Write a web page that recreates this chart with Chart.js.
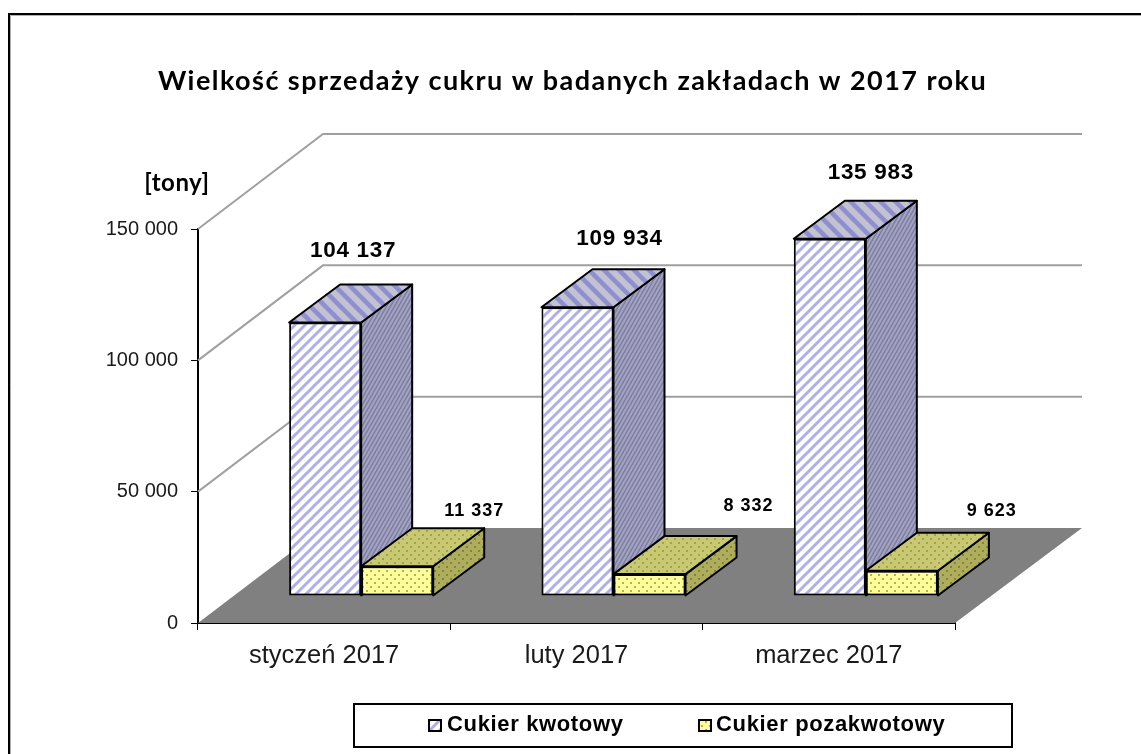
<!DOCTYPE html>
<html lang="pl">
<head>
<meta charset="utf-8">
<title>Wielkość sprzedaży cukru</title>
<script src="https://cdn.jsdelivr.net/npm/chart.js@4"></script>
<style>
  html, body { margin: 0; padding: 0; background: #fff; }
  canvas { display: block; }
</style>
</head>
<body>
<canvas id="chart" width="1141" height="754"></canvas>
<script>
'use strict';
const categories = ['styczeń 2017', 'luty 2017', 'marzec 2017'];
const kwotowy = [104137, 109934, 135983];
const pozakwotowy = [11337, 8332, 9623];
const seriesNames = ['Cukier kwotowy', 'Cukier pozakwotowy'];
const yTickLabels = ['0', '50 000', '100 000', '150 000'];
const kwotowyLabels = ['104 137', '109 934', '135 983'];
const pozakwotowyLabels = ['11 337', '8 332', '9 623'];

// 3D look: wall depth, bar depth and where the bars stand on the floor
const WALL = { dx: 125, dy: -95 };
const DEPTH = { dx: 51, dy: -38 };
const SHIFT = { x: 37, y: -27 };
// hand placed value labels, measured from the front-top centre of each bar
const labelOffsets = [
  [[28, -72], [42, -68], [41, -66]],
  [[77, -55], [99, -68], [90, -60]]
];

function tile(w, h, paint) {
  const c = document.createElement('canvas');
  c.width = w;
  c.height = h;
  paint(c.getContext('2d'));
  return document.createElement('canvas').getContext('2d').createPattern(c, 'repeat');
}

function stripes(w, h, bg, fg, lw, flip) {
  return tile(w, h, g => {
    g.fillStyle = bg;
    g.fillRect(0, 0, w, h);
    g.strokeStyle = fg;
    g.lineWidth = lw;
    // lines run well past the tile so the corners join up when it repeats
    for (const o of [-1, 0, 1]) {
      g.beginPath();
      if (flip) {
        g.moveTo(o * w - w, -h);
        g.lineTo(o * w + 2 * w, 2 * h);
      } else {
        g.moveTo(o * w - w, 2 * h);
        g.lineTo(o * w + 2 * w, -h);
      }
      g.stroke();
    }
  });
}

function dots(bg, fg) {
  return tile(8, 8, g => {
    g.fillStyle = bg;
    g.fillRect(0, 0, 8, 8);
    g.fillStyle = fg;
    g.fillRect(1, 1, 2, 2);
    g.fillRect(5, 5, 2, 2);
  });
}

const faces = [
  {
    front: stripes(10, 10, '#ffffff', '#aeaeec', 3, false),
    top: stripes(15, 15, '#c2c2d2', '#8f8fd0', 4.5, true),
    side: stripes(4, 7, '#a4a4bc', '#7c7ca8', 1.4, false)
  },
  {
    front: dots('#ffff99', '#b2b25a'),
    top: dots('#c9c974', '#a3a34e'),
    side: dots('#adad5c', '#84843c')
  }
];

function drawFaces(ctx, meta, index) {
  ctx.translate(SHIFT.x, SHIFT.y);
  ctx.strokeStyle = '#000';
  ctx.lineWidth = 2;
  ctx.lineJoin = 'round';
  const set = faces[index];
  for (const bar of meta.data) {
    const l = bar.x - bar.width / 2;
    const r = bar.x + bar.width / 2;
    ctx.fillStyle = set.side;
    ctx.beginPath();
    ctx.moveTo(r, bar.y);
    ctx.lineTo(r + DEPTH.dx, bar.y + DEPTH.dy);
    ctx.lineTo(r + DEPTH.dx, bar.base + DEPTH.dy);
    ctx.lineTo(r, bar.base);
    ctx.closePath();
    ctx.fill();
    ctx.stroke();
    ctx.fillStyle = set.top;
    ctx.beginPath();
    ctx.moveTo(l, bar.y);
    ctx.lineTo(l + DEPTH.dx, bar.y + DEPTH.dy);
    ctx.lineTo(r + DEPTH.dx, bar.y + DEPTH.dy);
    ctx.lineTo(r, bar.y);
    ctx.closePath();
    ctx.fill();
    ctx.stroke();
  }
}

const depthPlugin = {
  id: 'depth',
  afterLayout(chart) {
    // the title is centred on the whole page, not on the plot, and is tracked out
    const block = chart.titleBlock;
    block.left = 0;
    block.right = 1145;
    if (!block.spaced) {
      const draw = block.draw;
      block.draw = function () {
        chart.ctx.save();
        chart.ctx.letterSpacing = '1.45px';
        draw.call(block);
        chart.ctx.restore();
      };
      block.spaced = true;
    }
  },
  beforeDraw(chart) {
    const ctx = chart.ctx;
    ctx.save();
    ctx.strokeStyle = '#b0b0b0';
    ctx.lineWidth = 1;
    ctx.beginPath();
    ctx.moveTo(10.5, 754);
    ctx.lineTo(10.5, 15.5);
    ctx.lineTo(1141, 15.5);
    ctx.stroke();
    ctx.strokeStyle = '#000';
    ctx.lineWidth = 2;
    ctx.beginPath();
    ctx.moveTo(9, 754);
    ctx.lineTo(9, 14);
    ctx.lineTo(1141, 14);
    ctx.stroke();
    ctx.restore();
  },
  beforeDatasetsDraw(chart) {
    const { ctx, chartArea, scales } = chart;
    const zero = scales.y.getPixelForValue(0);
    ctx.save();
    // floor
    ctx.fillStyle = '#808080';
    ctx.beginPath();
    ctx.moveTo(chartArea.left, zero);
    ctx.lineTo(chartArea.left + WALL.dx, zero + WALL.dy);
    ctx.lineTo(chartArea.right + WALL.dx + 2, zero + WALL.dy);
    ctx.lineTo(chartArea.right, zero);
    ctx.closePath();
    ctx.fill();
    // gridlines on both walls
    ctx.strokeStyle = '#a0a0a0';
    ctx.lineWidth = 2;
    for (const tick of scales.y.ticks) {
      if (tick.value === 0) continue;
      const y = scales.y.getPixelForValue(tick.value);
      ctx.beginPath();
      ctx.moveTo(chartArea.left, y);
      ctx.lineTo(chartArea.left + WALL.dx, y + WALL.dy);
      ctx.lineTo(chartArea.right + WALL.dx + 2, y + WALL.dy);
      ctx.stroke();
    }
    ctx.restore();
  },
  beforeDatasetDraw(chart, args) {
    // chart.js paints the last dataset first, the yellow bars must end up on top
    if (args.index === 1) return false;
    chart.ctx.save();
    drawFaces(chart.ctx, args.meta, args.index);
  },
  afterDatasetDraw(chart) {
    chart.ctx.restore();
  },
  afterDatasetsDraw(chart) {
    const ctx = chart.ctx;
    const meta = chart.getDatasetMeta(1);
    ctx.save();
    drawFaces(ctx, meta, 1);
    meta.controller.draw();
    ctx.restore();
  },
  afterDraw(chart) {
    const ctx = chart.ctx;
    ctx.save();
    ctx.textAlign = 'center';
    ctx.textBaseline = 'middle';
    ctx.fillStyle = '#000';

    // value labels
    const texts = [kwotowyLabels, pozakwotowyLabels];
    chart.data.datasets.forEach((ds, i) => {
      chart.getDatasetMeta(i).data.forEach((bar, j) => {
        const off = labelOffsets[i][j];
        ctx.font = i === 0 ? 'bold 22.5px "Liberation Sans"' : 'bold 18px "Liberation Sans"';
        ctx.letterSpacing = i === 0 ? '0.7px' : '1px';
        ctx.fillText(texts[i][j], bar.x + SHIFT.x + off[0], bar.y + SHIFT.y + off[1]);
      });
    });

    // unit
    ctx.letterSpacing = '0.5px';
    ctx.font = 'bold 24px Lato';
    ctx.fillText('[tony]', 177, 183);

    // legend
    ctx.strokeStyle = '#000';
    ctx.lineWidth = 2;
    ctx.fillStyle = '#fff';
    ctx.fillRect(354, 704, 658, 43);
    ctx.strokeRect(354, 704, 658, 43);
    const swatches = [[429, 447], [699, 716]];
    chart.data.datasets.forEach((ds, i) => {
      ctx.fillStyle = ds.backgroundColor;
      ctx.fillRect(swatches[i][0], 720, 12, 11);
      ctx.strokeRect(swatches[i][0], 720, 12, 11);
      ctx.fillStyle = '#000';
      ctx.textAlign = 'left';
      ctx.font = 'bold 22px "Liberation Sans"';
      ctx.letterSpacing = '0.65px';
      ctx.fillText(ds.label, swatches[i][1], 725);
    });
    ctx.restore();
  }
};

const chart = new Chart(document.getElementById('chart'), {
  type: 'bar',
  data: {
    labels: categories,
    datasets: [
      { label: seriesNames[0], data: kwotowy, backgroundColor: faces[0].front },
      { label: seriesNames[1], data: pozakwotowy, backgroundColor: faces[1].front }
    ]
  },
  options: {
    responsive: false,
    animation: false,
    layout: { padding: { left: 0, right: 186, top: 0, bottom: 0 } },
    datasets: {
      bar: {
        barPercentage: 1,
        categoryPercentage: 0.571,
        borderColor: '#000',
        borderWidth: 2,
        borderSkipped: false,
        inflateAmount: 0,
        clip: false
      }
    },
    plugins: {
      legend: { display: false },
      tooltip: { enabled: false },
      title: {
        display: true,
        text: 'Wielkość sprzedaży cukru w badanych zakładach w 2017 roku',
        color: '#000',
        font: { family: 'Lato', size: 27, weight: 'bold', lineHeight: 1.2 },
        padding: { top: 65, bottom: 131.6 }
      }
    },
    scales: {
      x: {
        afterFit(scale) { scale.height = 131; },
        border: { color: '#000', width: 2 },
        grid: { drawOnChartArea: false, color: '#000', lineWidth: 1, tickLength: 7 },
        ticks: {
          color: '#1a1a1a',
          padding: 11,
          maxRotation: 0,
          font: { family: 'Liberation Sans', size: 25.5 }
        }
      },
      y: {
        min: 0,
        max: 150000,
        afterFit(scale) { scale.width = 198; },
        border: { color: '#000', width: 2 },
        grid: { drawOnChartArea: false, color: '#000', lineWidth: 1, tickLength: 7 },
        ticks: {
          stepSize: 50000,
          color: '#1a1a1a',
          padding: 13,
          font: { family: 'Liberation Sans', size: 20 },
          callback: (value, index) => yTickLabels[index]
        }
      }
    }
  },
  plugins: [depthPlugin]
});
</script>
</body>
</html>
